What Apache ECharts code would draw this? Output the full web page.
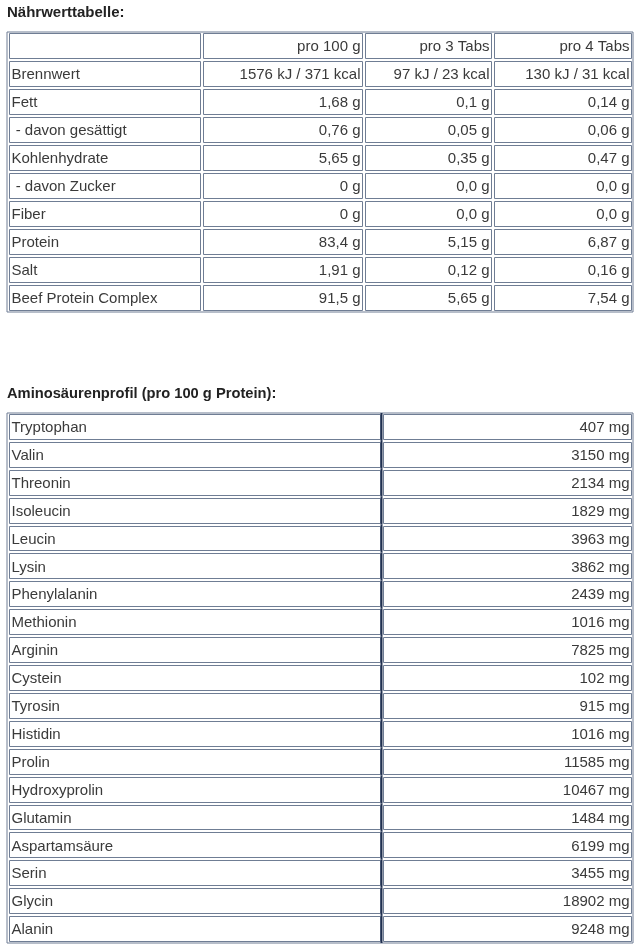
<!DOCTYPE html>
<html>
<head>
<meta charset="utf-8">
<script src="https://cdn.jsdelivr.net/npm/echarts@6/dist/echarts.min.js"></script>
<style>
  html, body { margin: 0; background: #fff; }
  #main { width: 640px; height: 949px; }
</style>
</head>
<body>
<div id="main"></div>
<script>
// Nährwerttabelle
const naehrHeader = ["", "pro 100 g", "pro 3 Tabs", "pro 4 Tabs"];
const naehrRows = ["Brennwert", "Fett", " - davon gesättigt", "Kohlenhydrate", " - davon Zucker",
  "Fiber", "Protein", "Salt", "Beef Protein Complex"];
const pro100g = ["1576 kJ / 371 kcal", "1,68 g", "0,76 g", "5,65 g", "0 g", "0 g", "83,4 g", "1,91 g", "91,5 g"];
const pro3Tabs = ["97 kJ / 23 kcal", "0,1 g", "0,05 g", "0,35 g", "0,0 g", "0,0 g", "5,15 g", "0,12 g", "5,65 g"];
const pro4Tabs = ["130 kJ / 31 kcal", "0,14 g", "0,06 g", "0,47 g", "0,0 g", "0,0 g", "6,87 g", "0,16 g", "7,54 g"];

// Aminosäurenprofil (pro 100 g Protein), mg
const aminoRows = ["Tryptophan", "Valin", "Threonin", "Isoleucin", "Leucin", "Lysin", "Phenylalanin",
  "Methionin", "Arginin", "Cystein", "Tyrosin", "Histidin", "Prolin", "Hydroxyprolin", "Glutamin",
  "Aspartamsäure", "Serin", "Glycin", "Alanin"];
const aminoMg = [407, 3150, 2134, 1829, 3963, 3862, 2439, 1016, 7825, 102, 915, 1016, 11585, 10467,
  1484, 6199, 3455, 18902, 9248];

// layout (column edges in grid units = pixels)
const edges1 = [0, 195.5, 357, 486, 626];
const edges2 = [0, 374.5, 626];
const borderColor = "#6f7d94";
const font = "15px 'Liberation Sans', Arial, sans-serif";

// build cell lists
const cells1 = [];
const rows1 = ["head"].concat(naehrRows);
naehrHeader.forEach((t, c) => cells1.push([c, 0, t]));
naehrRows.forEach((name, i) => {
  cells1.push([0, i + 1, name]);
  cells1.push([1, i + 1, pro100g[i]]);
  cells1.push([2, i + 1, pro3Tabs[i]]);
  cells1.push([3, i + 1, pro4Tabs[i]]);
});
const cells2 = [];
aminoRows.forEach((name, i) => {
  cells2.push([0, i, name]);
  cells2.push([1, i, aminoMg[i] + " mg"]);
});

function cellsOf(i) { return i === 0 ? cells1 : cells2; }

function makeRender(edges, darkDivider) {
  return function (params, api) {
    const c = api.value(0);
    const r = api.value(1);
    const text = cellsOf(params.seriesIndex)[params.dataIndex][2];
    const pL = api.coord([edges[c], r]);
    const pR = api.coord([edges[c + 1], r]);
    const h = api.size([0, 1])[1];
    const x0 = Math.round(pL[0]) + (c === 0 ? 2.5 : 1.5);
    const x1 = Math.round(pR[0]) - 1.5;
    const y0 = Math.round(pL[1] - h / 2) + 1.5;
    const y1 = Math.round(pL[1] + h / 2) - 1.5;
    const children = [{
      type: "rect",
      shape: { x: x0, y: y0, width: x1 - x0, height: y1 - y0 },
      style: { fill: "#fff", stroke: borderColor, lineWidth: 1 }
    }, {
      type: "text",
      style: {
        text: text,
        x: c === 0 ? x0 + 2 : x1 - 2,
        y: pL[1] + 1,
        align: c === 0 ? "left" : "right",
        verticalAlign: "middle",
        font: font,
        fill: "#3a3a3a"
      }
    }];
    if (darkDivider && c === 1) {
      const xd = Math.round(pL[0]) - 0.5;
      children.push({
        type: "line",
        shape: { x1: xd, y1: pL[1] - h / 2, x2: xd, y2: pL[1] + h / 2 },
        style: { stroke: "#1f2f4f", lineWidth: 2 }
      });
    }
    return { type: "group", children: children };
  };
}

const titleStyle = { fontSize: 15, fontWeight: "bold", color: "#222", fontFamily: "Liberation Sans, Arial" };
const chart = echarts.init(document.getElementById("main"));
chart.setOption({
  animation: false,
  backgroundColor: "#fff",
  title: [
    { text: "Nährwerttabelle:", left: 7, top: 5, padding: 0, textStyle: titleStyle },
    { text: "Aminosäurenprofil (pro 100 g Protein):", left: 7, top: 386, padding: 0,
      textStyle: Object.assign({}, titleStyle, { fontSize: 14.7 }) }
  ],
  grid: [
    { left: 7, top: 32, width: 626, height: 280, show: true, borderColor: borderColor, borderWidth: 1, backgroundColor: "#fff" },
    { left: 7, top: 413, width: 626, height: 530, show: true, borderColor: borderColor, borderWidth: 1, backgroundColor: "#fff" }
  ],
  xAxis: [
    { type: "value", gridIndex: 0, min: 0, max: 626, show: false },
    { type: "value", gridIndex: 1, min: 0, max: 626, show: false }
  ],
  yAxis: [
    { type: "category", gridIndex: 0, data: rows1, inverse: true, show: false },
    { type: "category", gridIndex: 1, data: aminoRows, inverse: true, show: false }
  ],
  series: [
    { type: "custom", xAxisIndex: 0, yAxisIndex: 0, renderItem: makeRender(edges1, false),
      data: cells1.map(d => [d[0], d[1]]), silent: true },
    { type: "custom", xAxisIndex: 1, yAxisIndex: 1, renderItem: makeRender(edges2, true),
      data: cells2.map(d => [d[0], d[1]]), silent: true }
  ]
});
window.addEventListener("resize", () => chart.resize());
</script>
</body>
</html>
